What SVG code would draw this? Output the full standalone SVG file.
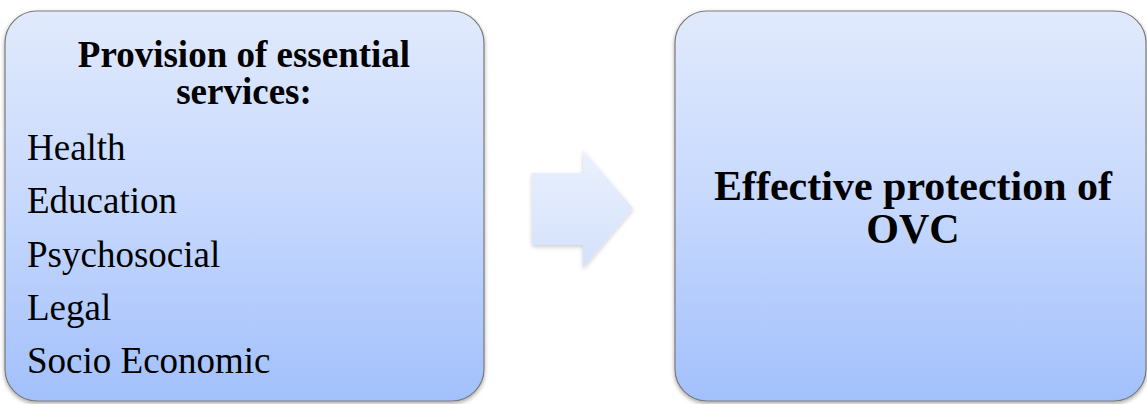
<svg xmlns="http://www.w3.org/2000/svg" width="1147" height="404" viewBox="0 0 1147 404">
  <defs>
    <linearGradient id="boxFill" x1="0" y1="0" x2="0" y2="1">
      <stop offset="0" stop-color="#e1eafc"/>
      <stop offset="0.5" stop-color="#c6d8fd"/>
      <stop offset="1" stop-color="#a2c0fb"/>
    </linearGradient>
    <linearGradient id="arrowFill" x1="0" y1="0" x2="0" y2="1">
      <stop offset="0" stop-color="#ebf1fd"/>
      <stop offset="1" stop-color="#d3e1fb"/>
    </linearGradient>
    <filter id="shadow" x="-10%" y="-10%" width="120%" height="120%">
      <feDropShadow dx="0" dy="2" stdDeviation="2" flood-color="#000" flood-opacity="0.35"/>
    </filter>
    <filter id="arrowShadow" x="-20%" y="-20%" width="140%" height="140%">
      <feDropShadow dx="0" dy="2" stdDeviation="2" flood-color="#000" flood-opacity="0.2"/>
    </filter>
  </defs>
  <style>
    .box { fill: url(#boxFill); stroke: #7a7a7a; stroke-width: 1.2; filter: url(#shadow); }
    .title { font-family: "Liberation Serif", "Times New Roman", serif; font-weight: bold; fill: #000; text-anchor: middle; }
    .item { font-family: "Liberation Serif", "Times New Roman", serif; font-size: 37px; fill: #000; }
  </style>
  <rect x="0" y="0" width="1147" height="404" fill="#ffffff"/>
  <g id="node-services">
    <rect class="box" x="5" y="11" width="479" height="390" rx="32" ry="32"/>
    <text class="title" font-size="37" x="244" y="67">Provision of essential</text>
    <text class="title" font-size="37" x="244" y="104">services:</text>
    <text class="item" x="27" y="160">Health</text>
    <text class="item" x="27" y="213">Education</text>
    <text class="item" x="27" y="267">Psychosocial</text>
    <text class="item" x="27" y="320">Legal</text>
    <text class="item" x="27" y="373">Socio Economic</text>
  </g>
  <g id="connectors">
    <polygon points="532,173 583,173 583,150 633,208 583,268 583,245 532,245" fill="url(#arrowFill)" filter="url(#arrowShadow)"/>
  </g>
  <g id="node-protection">
    <rect class="box" x="675" y="11" width="471" height="390" rx="32" ry="32"/>
    <text class="title" font-size="42" x="913" y="200">Effective protection of</text>
    <text class="title" font-size="42" x="913" y="243">OVC</text>
  </g>
</svg>
